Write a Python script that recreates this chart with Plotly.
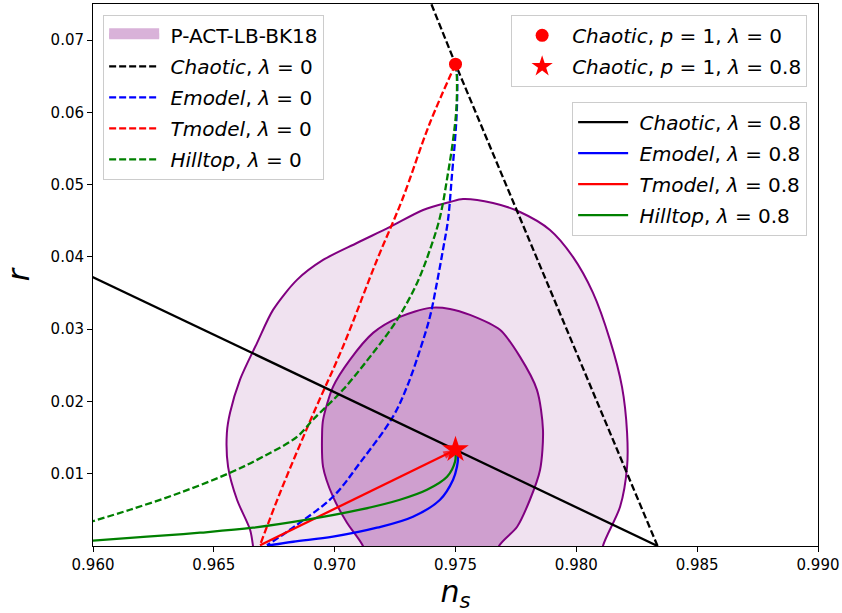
import plotly.graph_objects as go

# ---- data ----
# 95% (outer) and 68% (inner) P-ACT-LB-BK18 contours (ns, r)
outer_ns = [0.96670, 0.96662, 0.96650, 0.96596, 0.96559, 0.96554, 0.96567, 0.96608, 0.96679,
            0.96745, 0.96844, 0.96952, 0.97092, 0.97229, 0.97366, 0.97477, 0.97531, 0.97655,
            0.97767, 0.97891, 0.97986, 0.98069, 0.98139, 0.98189, 0.98210, 0.98210, 0.98181,
            0.98110, 0.98100]
outer_r = [-0.0030, 0.0000, 0.00225, 0.00640, 0.01096, 0.01567, 0.01843, 0.02299, 0.02811,
           0.03267, 0.03682, 0.03958, 0.04193, 0.04415, 0.04650, 0.04760, 0.04802, 0.04746,
           0.04622, 0.04373, 0.04000, 0.03502, 0.02852, 0.02202, 0.01567, 0.01096, 0.00543,
           0.0000, -0.0030]
inner_ns = [0.97140, 0.97117, 0.97051, 0.96993, 0.96952, 0.96948, 0.96952, 0.96993, 0.97063,
            0.97159, 0.97270, 0.97394, 0.97477, 0.97560, 0.97684, 0.97767, 0.97837, 0.97862,
            0.97850, 0.97808, 0.97755, 0.97680, 0.97660]
inner_r = [-0.0030, 0.0000, 0.00322, 0.00682, 0.01096, 0.01567, 0.01746, 0.02202, 0.02576,
           0.02949, 0.03170, 0.03295, 0.03281, 0.03198, 0.02991, 0.02617, 0.02161, 0.01608,
           0.01055, 0.00640, 0.00267, 0.0000, -0.0030]

# lambda = 0 (dashed)
chaotic0_ns = [0.98336, 0.97500, 0.97340]
chaotic0_r = [0.0000, 0.06667, 0.08000]
emodel0_ns = [0.97500, 0.97506, 0.97506, 0.97498, 0.97486, 0.97469, 0.97448, 0.97423, 0.97394,
              0.97353, 0.97299, 0.97241, 0.97105, 0.96993, 0.96844, 0.96720]
emodel0_r = [0.06667, 0.06544, 0.06074, 0.05618, 0.05161, 0.04511, 0.04097, 0.03640, 0.03170,
             0.02714, 0.02202, 0.01788, 0.01152, 0.00682, 0.00294, 0.00010]
tmodel0_ns = [0.97500, 0.97394, 0.97279, 0.97175, 0.97034, 0.96906, 0.96774, 0.96691]
tmodel0_r = [0.06667, 0.05853, 0.04788, 0.03958, 0.02756, 0.01788, 0.00737, 0.00010]
hilltop0_ns = [0.97500, 0.97505, 0.97504, 0.97490, 0.97469, 0.97436, 0.97394, 0.97341, 0.97258,
               0.97146, 0.97034, 0.96910, 0.96844, 0.96703, 0.96567, 0.96360, 0.96153, 0.95990]
hilltop0_r = [0.06667, 0.06544, 0.06074, 0.05618, 0.05161, 0.04553, 0.04097, 0.03640, 0.03129,
              0.02617, 0.02161, 0.01746, 0.01511, 0.01235, 0.01013, 0.00737, 0.00502, 0.00334]

# lambda = 0.8 (solid)
chaotic8_ns = [0.95990, 0.97500, 0.98336]
chaotic8_r = [0.03735, 0.01333, 0.0000]
emodel8_ns = [0.97500, 0.97510, 0.97506, 0.97490, 0.97436, 0.97324, 0.97175, 0.96993, 0.96828,
              0.96720]
emodel8_r = [0.01333, 0.01235, 0.01096, 0.00917, 0.00640, 0.00405, 0.00253, 0.00129, 0.00059,
             0.00004]
tmodel8_ns = [0.96691, 0.97500]
tmodel8_r = [0.00010, 0.01333]
hilltop8_ns = [0.97500, 0.97498, 0.97465, 0.97382, 0.97270, 0.97105, 0.96886, 0.96662, 0.96443,
               0.96223, 0.95990]
hilltop8_r = [0.01333, 0.01166, 0.00958, 0.00778, 0.00640, 0.00502, 0.00364, 0.00253, 0.00184,
              0.00129, 0.00073]

# chaotic p = 1 points
point0_ns, point0_r = [0.975], [0.06667]
point8_ns, point8_r = [0.975], [0.01333]

x_ticks = [0.960, 0.965, 0.970, 0.975, 0.980, 0.985, 0.990]
y_ticks = [0.01, 0.02, 0.03, 0.04, 0.05, 0.06, 0.07]

FONT = "DejaVu Sans"
PURPLE = "#800080"
DASH = "7px,3px"
LW = 2.3
SP = "\u00a0"

fig = go.Figure()

# contours
fig.add_trace(go.Scatter(x=outer_ns, y=outer_r, mode="lines", fill="toself",
                         fillcolor="#F0E2F0", line=dict(color=PURPLE, width=2, shape="spline",
                                                        smoothing=0.8),
                         showlegend=False, hoverinfo="skip"))
fig.add_trace(go.Scatter(x=inner_ns, y=inner_r, mode="lines", fill="toself",
                         fillcolor="#CF9FCF", line=dict(color=PURPLE, width=2, shape="spline",
                                                        smoothing=0.8),
                         showlegend=False, hoverinfo="skip"))
# legend proxy for the contours
fig.add_trace(go.Scatter(x=[None], y=[None], mode="lines", fill="toself",
                         fillcolor="#D9B2D9", line=dict(color="#D9B2D9", width=17),
                         name=SP + "P-ACT-LB-BK18", legend="legend", legendgroup="g0"))

def lam(v):
    return f"<i>λ</i> = {v}"

dashed = [
    (chaotic0_ns, chaotic0_r, "black", "Chaotic", "linear"),
    (emodel0_ns, emodel0_r, "blue", "Emodel", "spline"),
    (tmodel0_ns, tmodel0_r, "red", "Tmodel", "spline"),
    (hilltop0_ns, hilltop0_r, "green", "Hilltop", "spline"),
]
for i, (xs, ys, c, nm, sh) in enumerate(dashed):
    fig.add_trace(go.Scatter(x=xs, y=ys, mode="lines",
                             line=dict(color=c, width=LW, dash=DASH, shape=sh),
                             name=f"{SP}<i>{nm}</i>, {lam(0)}", legend="legend",
                             legendgroup=f"d{i}"))

solid = [
    (chaotic8_ns, chaotic8_r, "black", "Chaotic", "linear"),
    (emodel8_ns, emodel8_r, "blue", "Emodel", "spline"),
    (tmodel8_ns, tmodel8_r, "red", "Tmodel", "linear"),
    (hilltop8_ns, hilltop8_r, "green", "Hilltop", "spline"),
]
for i, (xs, ys, c, nm, sh) in enumerate(solid):
    fig.add_trace(go.Scatter(x=xs, y=ys, mode="lines",
                             line=dict(color=c, width=LW, shape=sh),
                             name=f"{SP}<i>{nm}</i>, {lam(0.8)}", legend="legend3",
                             legendgroup=f"s{i}"))

# arrow head on the T-model lambda=0.8 segment
fig.add_trace(go.Scatter(x=tmodel8_ns, y=tmodel8_r, mode="markers",
                         marker=dict(symbol="arrow", size=[0, 13], color="red",
                                     angleref="previous", line=dict(width=0)),
                         showlegend=False, hoverinfo="skip"))

fig.add_trace(go.Scatter(x=point0_ns, y=point0_r, mode="markers",
                         marker=dict(symbol="circle", size=13, color="red"),
                         name="<i>Chaotic</i>, <i>p</i> = 1, " + lam(0), legend="legend2",
                         legendgroup="p0"))
fig.add_trace(go.Scatter(x=point8_ns, y=point8_r, mode="markers",
                         marker=dict(symbol="star", size=20, color="red", line=dict(width=0)),
                         name="<i>Chaotic</i>, <i>p</i> = 1, " + lam(0.8), legend="legend2",
                         legendgroup="p8"))

leg_common = dict(bgcolor="rgba(255,255,255,0.85)", bordercolor="#cccccc", borderwidth=1,
                  font=dict(family=FONT, size=20, color="black"), itemwidth=50,
                  tracegroupgap=2)

fig.update_layout(
    width=842, height=613,
    margin=dict(l=93, r=24, t=4, b=67),
    paper_bgcolor="white", plot_bgcolor="white",
    font=dict(family=FONT, color="black"),
    legend=dict(x=0.014, y=0.98, xanchor="left", yanchor="top", **leg_common),
    legend2=dict(x=0.985, y=0.98, xanchor="right", yanchor="top", **leg_common),
    legend3=dict(x=0.985, y=0.82, xanchor="right", yanchor="top", **leg_common),
    xaxis=dict(range=[0.96, 0.99], tickvals=x_ticks, tickformat=".3f",
               showgrid=False, zeroline=False, showline=True, mirror=True,
               linecolor="black", linewidth=1, ticks="outside", ticklen=5,
               tickcolor="black", tickfont=dict(family=FONT, size=15),
               title=dict(text="<i>n<sub>s</sub></i>", font=dict(family=FONT, size=30),
                          standoff=8)),
    yaxis=dict(range=[0, 0.075], tickvals=y_ticks, tickformat=".2f",
               showgrid=False, zeroline=False, showline=True, mirror=True,
               linecolor="black", linewidth=1, ticks="outside", ticklen=5,
               tickcolor="black", tickfont=dict(family=FONT, size=15),
               title=dict(text="<i>r</i>", font=dict(family=FONT, size=30),
                          standoff=12)),
)

fig.write_html("out.html")
